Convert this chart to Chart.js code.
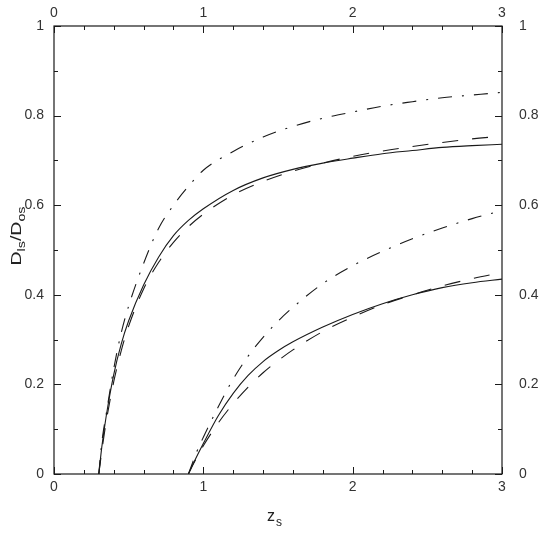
<!DOCTYPE html>
<html>
<head>
<meta charset="utf-8">
<script src="https://cdn.jsdelivr.net/npm/chart.js"></script>
<style>
    html, body { margin: 0; padding: 0; background: #fff; }
    #chart { display: block; }
</style>
</head>
<body>
<canvas id="chart" width="555" height="539"></canvas>
<script>
    // lens at z = 0.3
    const zsNear = [0.3, 0.32, 0.35, 0.4, 0.45, 0.5, 0.6, 0.7, 0.8, 0.9, 1.0, 1.2, 1.4, 1.6, 1.8, 2.0, 2.2, 2.4, 2.6, 2.8, 3.0];
    const nearSolid = [0, 0.06, 0.13, 0.222, 0.29, 0.342, 0.422, 0.484, 0.532, 0.566, 0.592, 0.633, 0.661, 0.68, 0.694, 0.705, 0.715, 0.722, 0.729, 0.733, 0.736];
    const nearDashed = [0, 0.051, 0.118, 0.206, 0.275, 0.33, 0.413, 0.472, 0.517, 0.552, 0.58, 0.623, 0.653, 0.676, 0.694, 0.709, 0.721, 0.731, 0.74, 0.748, 0.754];
    const nearDashDot = [0, 0.07, 0.135, 0.235, 0.315, 0.375, 0.47, 0.548, 0.6, 0.642, 0.678, 0.72, 0.752, 0.776, 0.794, 0.808, 0.821, 0.831, 0.84, 0.846, 0.852];

    // lens at z = 0.9
    const zsFar = [0.9, 0.92, 0.95, 1.0, 1.1, 1.2, 1.3, 1.4, 1.5, 1.6, 1.8, 2.0, 2.2, 2.4, 2.6, 2.8, 3.0];
    const farSolid = [0, 0.014, 0.035, 0.068, 0.13, 0.18, 0.22, 0.251, 0.275, 0.295, 0.328, 0.356, 0.38, 0.4, 0.416, 0.427, 0.435];
    const farDashed = [0, 0.014, 0.033, 0.063, 0.114, 0.157, 0.194, 0.226, 0.253, 0.277, 0.318, 0.35, 0.378, 0.4, 0.42, 0.436, 0.45];
    const farDashDot = [0, 0.018, 0.045, 0.082, 0.15, 0.212, 0.263, 0.305, 0.341, 0.372, 0.425, 0.465, 0.497, 0.525, 0.549, 0.57, 0.588];

    const xTickLabels = ['0', '1', '2', '3'];
    const yTickLabels = ['0', '0.2', '0.4', '0.6', '0.8', '1'];

    const ink = '#1a1a1a';
    const labelFont = { family: 'Liberation Sans, Arial, sans-serif', size: 14 };

    function toPoints(xs, ys) {
        return xs.map(function(x, i) { return { x: x, y: ys[i] }; });
    }

    function curve(xs, ys, dash) {
        return {
            data: toPoints(xs, ys),
            borderColor: ink,
            borderWidth: 1.1,
            borderDash: dash,
            pointRadius: 0,
            fill: false,
            cubicInterpolationMode: 'monotone',
            xAxisID: 'x',
            yAxisID: 'y'
        };
    }

    // frame, inward ticks and axis titles with subscripts
    const framePlugin = {
        id: 'framePlugin',
        afterDraw(chart) {
            const ctx = chart.ctx;
            const a = chart.chartArea;
            const sx = chart.scales.x;
            const sy = chart.scales.y;
            ctx.save();
            ctx.strokeStyle = ink;
            ctx.lineWidth = 1.2;
            ctx.strokeRect(a.left, a.top, a.right - a.left, a.bottom - a.top);

            ctx.lineWidth = 1;
            ctx.beginPath();
            for (let i = 0; i <= 15; i++) {
                let px = Math.round(sx.getPixelForValue(i * 0.2)) + 0.5;
                let len = i % 5 === 0 ? 7 : 4;
                ctx.moveTo(px, a.bottom); ctx.lineTo(px, a.bottom - len);
                ctx.moveTo(px, a.top); ctx.lineTo(px, a.top + len);
            }
            for (let j = 0; j <= 10; j++) {
                let py = Math.round(sy.getPixelForValue(j * 0.1)) + 0.5;
                let len = j % 2 === 0 ? 7 : 4;
                ctx.moveTo(a.left, py); ctx.lineTo(a.left + len, py);
                ctx.moveTo(a.right, py); ctx.lineTo(a.right - len, py);
            }
            ctx.stroke();

            ctx.fillStyle = '#222';
            ctx.textBaseline = 'alphabetic';
            ctx.textAlign = 'left';
            const fam = 'Liberation Sans, Arial, sans-serif';

            // x title: z_s
            ctx.font = '16px ' + fam;
            ctx.fillText('z', 267, 521);
            ctx.font = '12px ' + fam;
            ctx.fillText('s', 276, 526);

            // y title: D_ls/D_os (rotated)
            const parts = [['D', 15, 0], ['ls', 11, 4], ['/', 15, 0], ['D', 15, 0], ['os', 11, 4]];
            ctx.translate(21, 236);
            ctx.rotate(-Math.PI / 2);
            ctx.scale(1.3, 1);
            let total = 0;
            parts.forEach(function(p) {
                ctx.font = p[1] + 'px ' + fam;
                total += ctx.measureText(p[0]).width;
            });
            let cx = -total / 2;
            parts.forEach(function(p) {
                ctx.font = p[1] + 'px ' + fam;
                ctx.fillText(p[0], cx, p[2]);
                cx += ctx.measureText(p[0]).width;
            });
            ctx.restore();
        }
    };

    function axis(position, extra) {
        let base = {
            type: 'linear',
            position: position,
            grid: { display: false, drawTicks: false },
            border: { display: false },
            ticks: { color: '#333', font: labelFont, maxRotation: 0, autoSkip: false }
        };
        return Object.assign(base, extra);
    }

    new Chart(document.getElementById('chart'), {
        type: 'line',
        data: {
            datasets: [
                curve(zsNear, nearSolid, []),
                curve(zsNear, nearDashed, [16, 14]),
                curve(zsNear, nearDashDot, [14, 10, 2, 10]),
                curve(zsFar, farSolid, []),
                curve(zsFar, farDashed, [16, 14]),
                curve(zsFar, farDashDot, [14, 10, 2, 10])
            ]
        },
        options: {
            responsive: false,
            animation: false,
            devicePixelRatio: 1,
            layout: { padding: 0 },
            plugins: { legend: { display: false }, tooltip: { enabled: false } },
            scales: {
                x: axis('bottom', { min: 0, max: 3, afterFit: function(s) { s.height = 65; } }),
                x2: axis('top', { min: 0, max: 3, afterFit: function(s) { s.height = 26; } }),
                y: axis('left', { min: 0, max: 1, afterFit: function(s) { s.width = 54; } }),
                y2: axis('right', { min: 0, max: 1, afterFit: function(s) { s.width = 53; } })
            }
        },
        plugins: [framePlugin]
    });

    // tick settings per axis
    const c = Chart.getChart('chart');
    c.options.scales.x.ticks.stepSize = 1;
    c.options.scales.x.ticks.padding = 5;
    c.options.scales.x.ticks.callback = function(v, i) { return xTickLabels[i]; };
    c.options.scales.x2.ticks.stepSize = 1;
    c.options.scales.x2.ticks.padding = 4;
    c.options.scales.x2.ticks.callback = function(v, i) { return xTickLabels[i]; };
    c.options.scales.y.ticks.stepSize = 0.2;
    c.options.scales.y.ticks.padding = 10;
    c.options.scales.y.ticks.callback = function(v, i) { return yTickLabels[i]; };
    c.options.scales.y2.ticks.stepSize = 0.2;
    c.options.scales.y2.ticks.padding = 17;
    c.options.scales.y2.ticks.callback = function(v, i) { return yTickLabels[i]; };
    c.update();
</script>
</body>
</html>
